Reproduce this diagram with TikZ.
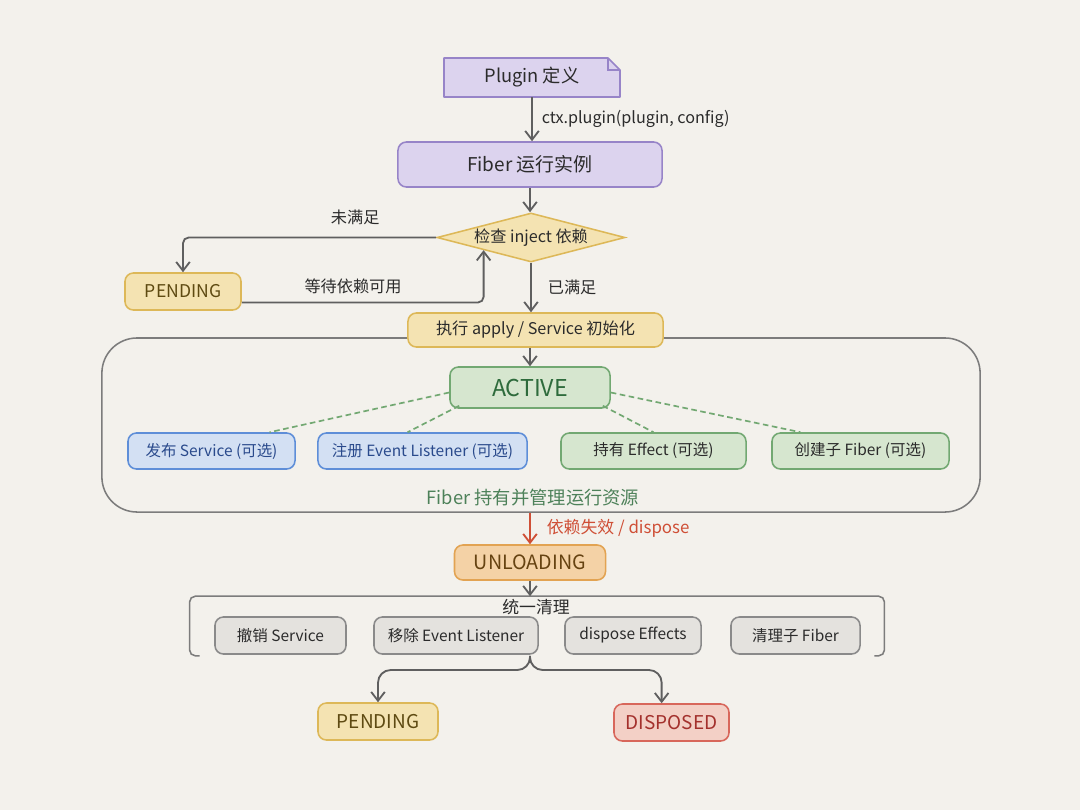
\documentclass[tikz,border=0pt]{standalone}
\usepackage{fontspec}
\setmainfont{Noto Sans CJK SC}
\usetikzlibrary{arrows.meta,positioning,calc,shapes.geometric}

\definecolor{paper}{HTML}{F3F1EC}
\definecolor{ink}{HTML}{2B2B2B}
\definecolor{wire}{HTML}{5F5F5F}
\definecolor{alarm}{HTML}{CF4F36}
\definecolor{lilacfill}{HTML}{DCD3EE}
\definecolor{lilacline}{HTML}{9784C8}
\definecolor{sandfill}{HTML}{F4E3B2}
\definecolor{sandline}{HTML}{DDB858}
\definecolor{sandtext}{HTML}{5E4A12}
\definecolor{leaffill}{HTML}{D6E6CF}
\definecolor{leafline}{HTML}{72A872}
\definecolor{leaftext}{HTML}{2E6B3C}
\definecolor{skyfill}{HTML}{D3E0F3}
\definecolor{skyline}{HTML}{5E8ED8}
\definecolor{skytext}{HTML}{2A4A8C}
\definecolor{peachfill}{HTML}{F4D2A6}
\definecolor{peachline}{HTML}{E2A352}
\definecolor{peachtext}{HTML}{664312}
\definecolor{rosefill}{HTML}{F3D0C6}
\definecolor{roseline}{HTML}{D8675B}
\definecolor{rosetext}{HTML}{A3302C}
\definecolor{stonefill}{HTML}{E4E2DE}
\definecolor{stoneline}{HTML}{8A8A8A}

\begin{document}
\begin{tikzpicture}[x=0.025cm,y=-0.025cm,
    flow/.style={draw=wire, line width=1.3pt, -{Straight Barb[length=2.2mm,width=3.4mm]}},
    state/.style={rounded corners=6pt, line width=1.1pt, inner sep=0pt, align=center},
    lilac/.style={state, fill=lilacfill, draw=lilacline, text=ink},
    sand/.style={state, fill=sandfill, draw=sandline, text=sandtext},
    leaf/.style={state, fill=leaffill, draw=leafline, text=leaftext},
    sky/.style={state, fill=skyfill, draw=skyline, text=skytext},
    peach/.style={state, fill=peachfill, draw=peachline, text=peachtext},
    rose/.style={state, fill=rosefill, draw=roseline, text=rosetext},
    stone/.style={state, fill=stonefill, draw=stoneline, text=ink},
    frame/.style={draw=stoneline!90!black, line width=1.1pt},
    link/.style={draw=leafline, line width=1.2pt, dash pattern=on 4pt off 2.5pt},
    note/.style={font=\fontsize{11.5}{13}\selectfont, text=ink}]

  \fill[paper] (0,0) rectangle (1080,810);

  % plugin -> fiber
  \filldraw[fill=lilacfill, draw=lilacline, line width=1.1pt, line join=round]
    (444,58) -- (608,58) -- (620,70) -- (620,97) -- (444,97) -- cycle;
  \draw[lilacline, line width=1.1pt] (608,58) -- (608,70) -- (620,70);
  \node[inner sep=0pt, minimum width=4.4cm, minimum height=0.975cm,
        font=\fontsize{13}{15}\selectfont, text=ink] (plugin) at (532,77.5) {Plugin 定义};
  \node[lilac, minimum width=6.6cm, minimum height=1.125cm,
        font=\fontsize{13.5}{16}\selectfont] (fiber) at (530,164.5) {Fiber 运行实例};
  \draw[flow] (plugin.south) -- node[right, note, xshift=3pt] {ctx.plugin(plugin, config)}
    (plugin.south |- fiber.north);

  % dependency check
  \node[diamond, aspect=3.8, fill=sandfill, draw=sandline, text=ink, line width=1.1pt, inner sep=0pt,
        minimum width=4.7cm, minimum height=1.225cm,
        font=\fontsize{11.5}{13}\selectfont] (check) at (531,237.5) {检查 inject 依赖};
  \draw[flow] (fiber.south) -- (fiber.south |- check.north);

  \node[sand, minimum width=2.9cm, minimum height=0.925cm,
        font=\fontsize{12.5}{14}\selectfont] (pend1) at (183,291.5) {PENDING};
  \draw[flow, rounded corners=4pt] (check.west) -- node[above=5pt, pos=0.32, note] {未满足}
    (check.west -| pend1.north) -- (pend1.north);
  \draw[flow, rounded corners=4pt] ($(pend1.east)+(0,11)$) -| node[above=2pt, pos=0.23, note] {等待依赖可用}
    (check.south west);

  % running scope
  \node[frame, rounded corners=25pt, minimum width=21.95cm, minimum height=4.35cm] (pool) at (541,425) {};

  \node[sand, minimum width=6.375cm, minimum height=0.85cm,
        font=\fontsize{11.5}{13}\selectfont, text=ink] (apply) at (535.5,330) {执行 apply / Service 初始化};
  \draw[flow] (check.south) -- node[right, note, xshift=8pt] {已满足} (check.south |- apply.north);

  \node[leaf, minimum width=4cm, minimum height=1.025cm,
        font=\fontsize{16.5}{18}\selectfont] (active) at (530,387.5) {ACTIVE};
  \draw[flow] (apply.south -| active.north) -- (active.north);

  \node[sky, minimum width=4.175cm, minimum height=0.9cm,
        font=\fontsize{11}{12}\selectfont] (svc) at (211.5,451) {发布 Service (可选)};
  \node[sky, minimum width=5.225cm, minimum height=0.9cm,
        font=\fontsize{11}{12}\selectfont] (evt) at (422.5,451) {注册 Event Listener (可选)};
  \node[leaf, minimum width=4.625cm, minimum height=0.9cm, text=ink,
        font=\fontsize{11}{12}\selectfont] (eff) at (653.5,451) {持有 Effect (可选)};
  \node[leaf, minimum width=4.425cm, minimum height=0.9cm, text=ink,
        font=\fontsize{11}{12}\selectfont] (child) at (860.5,451) {创建子 Fiber (可选)};

  \draw[link] ($(active.west)+(0,5)$) -- ($(svc.north)+(58,0)$);
  \draw[link] ($(active.south west)+(10,-3)$) -- ($(evt.north)+(-15,0)$);
  \draw[link] ($(active.south east)+(-8,-3)$) -- (eff.north);
  \draw[link] ($(active.east)+(0,5)$) -- ($(child.north)+(-60,0)$);

  \node[font=\fontsize{13}{15}\selectfont, text=leaftext!85!white] (owns) at (533,497.5) {Fiber 持有并管理运行资源};

  % unloading
  \node[peach, minimum width=3.775cm, minimum height=0.875cm,
        font=\fontsize{14}{16}\selectfont] (unload) at (530,562.5) {UNLOADING};
  \draw[flow, draw=alarm] (unload.north |- pool.south) --
    node[right, xshift=8pt, note, text=alarm, font=\fontsize{12}{14}\selectfont] {依赖失效 / dispose} (unload.north);

  \node[minimum width=17.35cm, minimum height=1.475cm, inner sep=0pt] (cleanup) at (537,626) {};
  \draw[frame, rounded corners=4pt] ($(cleanup.south west)+(10,0)$) -- (cleanup.south west)
    -- (cleanup.north west) -- (cleanup.north east) -- (cleanup.south east)
    -- ($(cleanup.south east)+(-10,0)$);
  \draw[flow] (unload.south) -- (unload.south |- cleanup.north);
  \node[note, font=\fontsize{12}{14}\selectfont] (tidy) at (536,607) {统一清理};

  \node[stone, minimum width=3.275cm, minimum height=0.925cm,
        font=\fontsize{11}{12}\selectfont] (drop) at (280.5,635.5) {撤销 Service};
  \node[stone, minimum width=4.1cm, minimum height=0.925cm,
        font=\fontsize{11}{12}\selectfont] (unhook) at (456,635.5) {移除 Event Listener};
  \node[stone, minimum width=3.4cm, minimum height=0.925cm,
        font=\fontsize{11}{12}\selectfont] (effs) at (633,635.5) {dispose Effects};
  \node[stone, minimum width=3.225cm, minimum height=0.925cm,
        font=\fontsize{11}{12}\selectfont] (kids) at (795.5,635.5) {清理子 Fiber};

  % outcome
  \node[sand, minimum width=3cm, minimum height=0.925cm,
        font=\fontsize{13.5}{15}\selectfont] (pend2) at (378,721.5) {PENDING};
  \node[rose, minimum width=2.875cm, minimum height=0.925cm,
        font=\fontsize{13.5}{15}\selectfont] (disp) at (671.5,722.5) {DISPOSED};
  \coordinate (fork) at (530,670);
  \draw[flow, rounded corners=9pt] (unload.south |- cleanup.south) -- (fork) -| (pend2.north);
  \draw[flow, rounded corners=9pt] (unload.south |- cleanup.south) -- (fork) -| ([xshift=-7pt]disp.north);

\end{tikzpicture}
\end{document}
